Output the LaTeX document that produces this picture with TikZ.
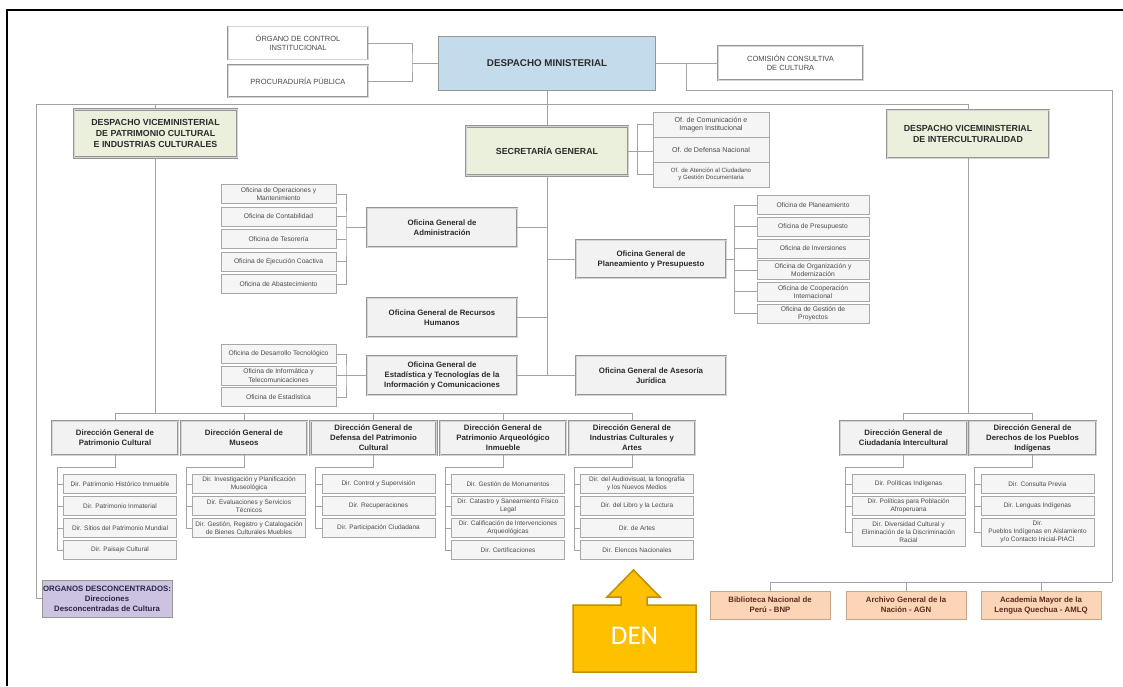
\documentclass[tikz,border=0pt]{standalone}
\usepackage{fontspec}
\setmainfont{Liberation Sans}
\newfontfamily\denfamily{Carlito}
\usetikzlibrary{calc}

\definecolor{wirec}{HTML}{A3A3A3}
\definecolor{edge}{HTML}{969696}
\definecolor{edgein}{HTML}{D4D4D4}
\definecolor{edgesm}{HTML}{A8A8A8}
\definecolor{panel}{HTML}{F2F2F2}
\definecolor{subfill}{HTML}{F5F5F5}
\definecolor{dmblue}{HTML}{C4DBEC}
\definecolor{vgreen}{HTML}{EAF0DC}
\definecolor{lav}{HTML}{CDC3E0}
\definecolor{peach}{HTML}{FBD5B6}
\definecolor{peachedge}{HTML}{C9A58C}
\definecolor{gold}{HTML}{FFC000}
\definecolor{golddk}{HTML}{BF9000}
\definecolor{ink}{HTML}{2B2B2B}
\definecolor{inksm}{HTML}{4A4A4A}
\definecolor{navyink}{HTML}{26264A}
\definecolor{brownink}{HTML}{5E2A1C}

\newcommand\tzDM{\fontsize{9.8}{11.5}\selectfont\bfseries}
\newcommand\tzDV{\fontsize{8.8}{10.6}\selectfont\bfseries}
\newcommand\tzOG{\fontsize{7.8}{10}\selectfont\bfseries}
\newcommand\tzTop{\fontsize{7.5}{9}\selectfont}
\newcommand\tzOf{\fontsize{7.1}{8.6}\selectfont}
\newcommand\tzOfs{\fontsize{6.1}{7.4}\selectfont}
\newcommand\tzSm{\fontsize{6.7}{8.2}\selectfont}
\newcommand\tzDir{\fontsize{6.5}{8}\selectfont}

\tikzset{
  wire/.style={draw=wirec, line width=0.8pt},
  base/.style={inner sep=0pt, align=center, text=ink},
  sz/.style 2 args={minimum width=#1, minimum height=#2},
  frame/.style={base, draw=edge, line width=0.7pt, double=edgein, double distance=1pt},
  dmbox/.style={base, draw=edge, line width=0.8pt, fill=dmblue, font=\tzDM},
  vbox/.style={frame, fill=vgreen, font=\tzDV},
  ogbox/.style={frame, fill=panel, font=\tzOG},
  topbox/.style={base, draw=edge, line width=0.6pt, double=edgein, double distance=0.7pt, fill=white, font=\tzTop, text=inksm},
  smbox/.style={base, draw=edgesm, line width=0.6pt, fill=subfill, font=\tzSm, text=inksm},
  dirbox/.style={smbox, font=\tzDir},
  orgbox/.style={base, draw=edge, line width=0.8pt, fill=lav, font=\tzOG, text=navyink},
  nacbox/.style={base, draw=peachedge, line width=0.8pt, fill=peach, font=\tzOG, text=brownink},
}

\begin{document}
\begin{tikzpicture}[x=1pt,y=-1pt]
\useasboundingbox (0,0) rectangle (1123,686);
\fill[white] (0,0) rectangle (1123,686);

% page frame
\draw[black, line width=2.2pt] (7,686) -- (7,10) -- (1123,10);

% ---------- top level ----------
\node[dmbox, sz={217}{54}] (dm) at (547,63) {DESPACHO MINISTERIAL};
\node[topbox, sz={140}{33}] (oci) at (298,43) {ÓRGANO DE CONTROL\\INSTITUCIONAL};
\node[topbox, sz={140}{32}] (proc) at (298,81) {PROCURADURÍA PÚBLICA};
\node[topbox, sz={145}{34}] (ccc) at (790.5,63) {COMISIÓN CONSULTIVA\\DE CULTURA};

\node[vbox, sz={163}{48}] (dvp) at (155.5,133.5) {DESPACHO VICEMINISTERIAL\\DE PATRIMONIO CULTURAL\\E INDUSTRIAS CULTURALES};
\node[vbox, sz={162}{48}] (dvi) at (968,134) {DESPACHO VICEMINISTERIAL\\DE INTERCULTURALIDAD};
\node[vbox, sz={162}{49}] (sg) at (547,151) {SECRETARÍA GENERAL};

% offices attached to the general secretariat
\node[smbox, font=\tzOf, sz={116}{25}] (so1) at (711,124.5) {Of. de Comunicación e\\Imagen Institucional};
\node[smbox, font=\tzOf, sz={116}{25}] (so2) at (711,149.5) {Of. de Defensa Nacional};
\node[smbox, font=\tzOfs, sz={116}{25}] (so3) at (711,174.5) {Of. de Atención al Ciudadano\\y Gestión Documentaria};

% ---------- general offices ----------
\node[ogbox, sz={150}{39}] (oga) at (442,227.5) {Oficina General de\\Administración};
\node[ogbox, sz={150}{39}] (ogrh) at (442,317.5) {Oficina General de Recursos\\Humanos};
\node[ogbox, sz={150}{39}] (ogetic) at (442,375.5) {Oficina General de\\Estadística y Tecnologías de la\\Información y Comunicaciones};
\node[ogbox, sz={150}{38}] (ogpp) at (651,259) {Oficina General de\\Planeamiento y Presupuesto};
\node[ogbox, sz={150}{39}] (ogaj) at (651,375.5) {Oficina General de Asesoría\\Jurídica};

\node[smbox, sz={115}{19}] (ad1) at (278.5,194) {Oficina de Operaciones y\\Mantenimiento};
\node[smbox, sz={115}{19}] (ad2) at (278.5,216.5) {Oficina de Contabilidad};
\node[smbox, sz={115}{19}] (ad3) at (278.5,239) {Oficina de Tesorería};
\node[smbox, sz={115}{19}] (ad4) at (278.5,261.5) {Oficina de Ejecución Coactiva};
\node[smbox, sz={115}{19}] (ad5) at (278.5,284) {Oficina de Abastecimiento};

\node[smbox, sz={115}{19}] (ti1) at (278.5,354) {Oficina de Desarrollo Tecnológico};
\node[smbox, sz={115}{19}] (ti2) at (278.5,375.5) {Oficina de Informática y\\Telecomunicaciones};
\node[smbox, sz={115}{19}] (ti3) at (278.5,397) {Oficina de Estadística};

\node[smbox, sz={112}{19}] (pp1) at (813,205) {Oficina de Planeamiento};
\node[smbox, sz={112}{19}] (pp2) at (813,226.7) {Oficina de Presupuesto};
\node[smbox, sz={112}{19}] (pp3) at (813,248.4) {Oficina de Inversiones};
\node[smbox, sz={112}{19}] (pp4) at (813,270.1) {Oficina de Organización y\\Modernización};
\node[smbox, sz={112}{19}] (pp5) at (813,291.8) {Oficina de Cooperación\\Internacional};
\node[smbox, sz={112}{19}] (pp6) at (813,313.5) {Oficina de Gestión de\\Proyectos};

% ---------- general directorates ----------
\node[ogbox, sz={126}{34}] (dgpc) at (115,438) {Dirección General de\\Patrimonio Cultural};
\node[ogbox, sz={126}{34}] (dgm) at (244,438) {Dirección General de\\Museos};
\node[ogbox, sz={126}{34}] (dgd) at (373.5,438) {Dirección General de\\Defensa del Patrimonio\\Cultural};
\node[ogbox, sz={126}{34}] (dga) at (503,438) {Dirección General de\\Patrimonio Arqueológico\\Inmueble};
\node[ogbox, sz={126}{34}] (dgi) at (632,438) {Dirección General de\\Industrias Culturales y\\Artes};
\node[ogbox, sz={127}{34}] (dgc) at (903.5,438) {Dirección General de\\Ciudadanía Intercultural};
\node[ogbox, sz={127}{34}] (dgp) at (1032.5,438) {Dirección General de\\Derechos de los Pueblos\\Indígenas};

% directorates
\node[dirbox, sz={113}{19}] (pc1) at (120,484) {Dir. Patrimonio Histórico Inmueble};
\node[dirbox, sz={113}{19}] (pc2) at (120,506) {Dir. Patrimonio Inmaterial};
\node[dirbox, sz={113}{19}] (pc3) at (120,528) {Dir. Sitios del Patrimonio Mundial};
\node[dirbox, sz={113}{19}] (pc4) at (120,550) {Dir. Paisaje Cultural};

\node[dirbox, sz={113}{19}] (mu1) at (249,484) {Dir. Investigación y Planificación\\Museológica};
\node[dirbox, sz={113}{19}] (mu2) at (249,506) {Dir. Evaluaciones y Servicios\\Técnicos};
\node[dirbox, sz={113}{19}] (mu3) at (249,528) {Dir. Gestión, Registro y Catalogación\\de Bienes Culturales Muebles};

\node[dirbox, sz={113}{19}] (de1) at (378.5,484) {Dir. Control y Supervisión};
\node[dirbox, sz={113}{19}] (de2) at (378.5,506) {Dir. Recuperaciones};
\node[dirbox, sz={113}{19}] (de3) at (378.5,528) {Dir. Participación Ciudadana};

\node[dirbox, sz={113}{19}] (pa1) at (508,484) {Dir. Gestión de Monumentos};
\node[dirbox, sz={113}{19}] (pa2) at (508,506) {Dir. Catastro y Saneamiento Físico\\Legal};
\node[dirbox, sz={113}{19}] (pa3) at (508,528) {Dir. Calificación de Intervenciones\\Arqueológicas};
\node[dirbox, sz={113}{19}] (pa4) at (508,550) {Dir. Certificaciones};

\node[dirbox, sz={113}{19}] (ic1) at (637,484) {Dir. del Audiovisual, la fonografía\\y los Nuevos Medios};
\node[dirbox, sz={113}{19}] (ic2) at (637,506) {Dir. del Libro y la Lectura};
\node[dirbox, sz={113}{19}] (ic3) at (637,528) {Dir. de Artes};
\node[dirbox, sz={113}{19}] (ic4) at (637,550) {Dir. Elencos Nacionales};

\node[dirbox, sz={113}{19}] (ci1) at (908.5,484) {Dir. Políticas Indígenas};
\node[dirbox, sz={113}{19}] (ci2) at (908.5,506) {Dir. Políticas para Población\\Afroperuana};
\node[dirbox, sz={113}{28}] (ci3) at (908.5,532) {Dir. Diversidad Cultural y\\Eliminación de la Discriminación\\Racial};

\node[dirbox, sz={113}{19}] (dp1) at (1037.5,484) {Dir. Consulta Previa};
\node[dirbox, sz={113}{19}] (dp2) at (1037.5,506) {Dir. Lenguas Indígenas};
\node[dirbox, sz={113}{28}] (dp3) at (1037.5,532) {Dir.\\Pueblos Indígenas en Aislamiento\\y/o Contacto Inicial-PIACI};

% decentralised bodies and attached institutions
\node[orgbox, sz={130}{37}] (odc) at (107,598.5) {ORGANOS DESCONCENTRADOS:\\Direcciones\\Desconcentradas de Cultura};
\node[nacbox, sz={120}{28}] (bnp) at (770,605) {Biblioteca Nacional de\\Perú - BNP};
\node[nacbox, sz={120}{28}] (agn) at (906,605) {Archivo General de la\\Nación - AGN};
\node[nacbox, sz={120}{28}] (aml) at (1041,605) {Academia Mayor de la\\Lengua Quechua - AMLQ};

% ---------- connectors ----------
\coordinate (jtop) at (412,63);
\draw[wire] (oci.east) -| (jtop) |- (proc.east);
\draw[wire] (jtop) -- (dm.west);
\draw[wire] (dm.east) -- (ccc.west);

% right spine towards the attached institutions
\coordinate (rs0) at (686,63);
\coordinate (rtop) at (1112,90);
\coordinate (rbot) at (1112,582);
\draw[wire] (rs0) |- (rtop) -- (rbot);
\draw[wire] (bnp.north) |- (rbot);
\draw[wire] (agn.north) -- (agn.north |- rbot);
\draw[wire] (aml.north) -- (aml.north |- rbot);

% long bar below the minister's office
\coordinate (hl) at (36,104);
\coordinate (hr) at (968,104);
\draw[wire] (odc.west) -| (hl) -- (hr) -- (dvi.north);
\draw[wire] (dvp.north) -- (dvp.north |- hl);
\draw[wire] (dm.south) -- (sg.north);

% general secretariat offices
\coordinate (sgb) at (637,151);
\draw[wire] (so1.west) -| (sgb) |- (so3.west);
\draw[wire] (sg.east) -- (sg.east -| so2.west);

% central spine
\coordinate (spb) at (547,375.5);
\draw[wire] (sg.south) -- (spb);
\draw[wire] (oga.east) -- (oga.east -| spb);
\draw[wire] (ogrh.east) -- (ogrh.east -| spb);
\draw[wire] (ogpp.west) -- (ogpp.west -| spb);
\draw[wire] (ogetic.east) -- (ogaj.west);

% administration offices
\coordinate (admb) at (346,227.5);
\draw[wire] (ad1.east) -| (admb) |- (ad5.east);
\draw[wire] (ad2.east) -- (ad2.east -| admb);
\draw[wire] (ad3.east) -- (ad3.east -| admb);
\draw[wire] (ad4.east) -- (ad4.east -| admb);
\draw[wire] (admb) -- (oga.west);

% statistics and technology offices
\coordinate (ticb) at (346,375.5);
\draw[wire] (ti1.east) -| (ticb) |- (ti3.east);
\draw[wire] (ti2.east) -- (ogetic.west);

% planning offices
\coordinate (ppb) at (734,259);
\draw[wire] (pp1.west) -| (ppb) |- (pp6.west);
\draw[wire] (pp2.west) -- (pp2.west -| ppb);
\draw[wire] (pp3.west) -- (pp3.west -| ppb);
\draw[wire] (pp4.west) -- (pp4.west -| ppb);
\draw[wire] (pp5.west) -- (pp5.west -| ppb);
\draw[wire] (ogpp.east) -- (ppb);

% directorate bars
\coordinate (dgbar) at (0,413);
\draw[wire] (dgpc.north) -- (dgpc.north |- dgbar) -| (dgi.north);
\draw[wire] (dgm.north) -- (dgm.north |- dgbar);
\draw[wire] (dgd.north) -- (dgd.north |- dgbar);
\draw[wire] (dga.north) -- (dga.north |- dgbar);
\draw[wire] (dvp.south) -- (dvp.south |- dgbar);
\draw[wire] (dgc.north) -- (dgc.north |- dgbar) -| (dgp.north);
\draw[wire] (dvi.south) -- (dvi.south |- dgbar);

% sub-directorate brackets
\coordinate (pcb) at (57,467);
\draw[wire] (dgpc.south) |- (pcb) |- (pc4.west);
\foreach \n in {pc1,pc2,pc3} \draw[wire] (\n.west) -- (\n.west -| pcb);

\coordinate (mub) at (186,467);
\draw[wire] (dgm.south) |- (mub) |- (mu3.west);
\foreach \n in {mu1,mu2} \draw[wire] (\n.west) -- (\n.west -| mub);

\coordinate (deb) at (315.5,467);
\draw[wire] (dgd.south) |- (deb) |- (de3.west);
\foreach \n in {de1,de2} \draw[wire] (\n.west) -- (\n.west -| deb);

\coordinate (pab) at (445,467);
\draw[wire] (dga.south) |- (pab) |- (pa4.west);
\foreach \n in {pa1,pa2,pa3} \draw[wire] (\n.west) -- (\n.west -| pab);

\coordinate (icb) at (574,467);
\draw[wire] (dgi.south) |- (icb) |- (ic4.west);
\foreach \n in {ic1,ic2,ic3} \draw[wire] (\n.west) -- (\n.west -| icb);

\coordinate (cib) at (845.5,467);
\draw[wire] (dgc.south) |- (cib) |- (ci3.west);
\foreach \n in {ci1,ci2} \draw[wire] (\n.west) -- (\n.west -| cib);

\coordinate (dpb) at (974.5,467);
\draw[wire] (dgp.south) |- (dpb) |- (dp3.west);
\foreach \n in {dp1,dp2} \draw[wire] (\n.west) -- (\n.west -| dpb);

% highlight arrow
\filldraw[fill=gold, draw=golddk, line width=1.5pt, line join=miter]
  (573,672) -- (573,605) -- (621,605) -- (621,597) -- (607,597) -- (633.5,570)
  -- (660,597) -- (647,597) -- (647,605) -- (696,605) -- (696,672) -- cycle;
\node[font=\denfamily\fontsize{27}{30}\selectfont, text=white, inner sep=0pt] (den) at (634.5,636) {DEN};

\end{tikzpicture}
\end{document}
